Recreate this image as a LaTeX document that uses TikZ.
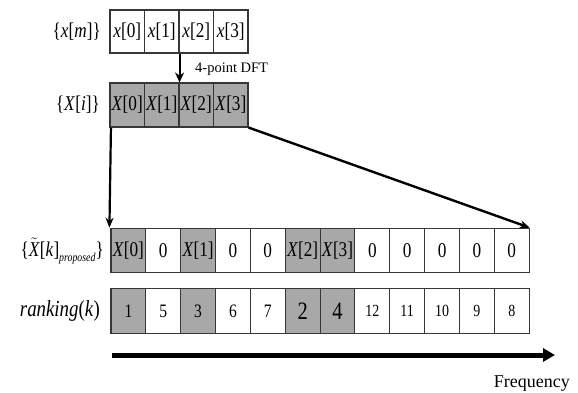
\documentclass[tikz,border=0pt]{standalone}
\usepackage{fontspec}
\setmainfont{Liberation Serif}[FakeStretch=0.82]
\newfontfamily\plainserif{Liberation Serif}
\usetikzlibrary{positioning,arrows.meta}
\definecolor{cellgray}{RGB}{168,168,168}
\definecolor{celledge}{RGB}{55,55,55}

\begin{document}
\begin{tikzpicture}[x=1pt, y=1pt, on grid, node distance=34.5pt,
    cell/.style={draw=celledge, line width=1.1pt, minimum width=34.5pt, minimum height=43pt, inner sep=0pt, font=\fontsize{21}{21}\selectfont},
    shaded/.style={cell, fill=cellgray},
    wide/.style={minimum width=34.85pt, minimum height=44.5pt},
    rowlabel/.style={anchor=east, inner sep=0pt, font=\fontsize{21}{21}\selectfont}]
    \useasboundingbox (0,0) rectangle (578,392);

    \node[cell] (x0) at (127.25,360.5) {\textit{x}[0]};
    \foreach \i [count=\j from 0] in {1,2,3}
        \node[cell, right of = x\j] (x\i) {\textit{x}[\i]};

    \node[shaded, minimum height=44pt] (X0) at (127.25,287) {\textit{X}[0]};
    \foreach \i [count=\j from 0] in {1,2,3}
        \node[shaded, minimum height=44pt, right of = X\j] (X\i) {\textit{X}[\i]};

    \node[shaded, wide] (p0) at (128.4,141.5) {\textit{X}[0]};
    \foreach \val/\sty [count=\k from 0] in {0/cell, {\textit{X}[1]}/shaded, 0/cell, 0/cell, {\textit{X}[2]}/shaded, {\textit{X}[3]}/shaded, 0/cell, 0/cell, 0/cell, 0/cell, 0/cell}{
        \pgfmathtruncatemacro\n{\k+1}
        \node[\sty, wide, right=34.85pt of p\k] (p\n) {\val};
    }

    \node[shaded, wide, font=\fontsize{19}{19}\selectfont] (r0) at (128.4,81) {1};
    \foreach \val/\sty/\fs [count=\k from 0] in {5/cell/19, 3/shaded/19, 6/cell/19, 7/cell/19, 2/shaded/25, 4/shaded/25, 12/cell/17, 11/cell/17, 10/cell/17, 9/cell/17, 8/cell/17}{
        \pgfmathtruncatemacro\n{\k+1}
        \node[\sty, wide, font=\fontsize{\fs}{\fs}\selectfont, right=34.85pt of r\k] (r\n) {\val};
    }

    \node[rowlabel] (lx) at (101,360.5) {\{\textit{x}[\textit{m}]\}};
    \node[rowlabel] (lX) at (100,287) {\{\textit{X}[\textit{i}]\}};
    \node[rowlabel] (lp) at (104,141) {\{$\tilde{\mbox{\textit{X}}}$[\textit{k}]\raisebox{-0.6ex}{\fontsize{12}{12}\selectfont\textit{proposed}}\}};
    \node[rowlabel, font=\fontsize{23}{23}\selectfont] (lr) at (100,81) {\textit{ranking}(\textit{k})};

    \draw[-{Stealth[length=10pt,width=9pt]}, line width=2pt] (x1.south east) -- (X1.north east);
    \node[anchor=west, inner sep=0pt, font=\plainserif\fontsize{14.5}{14.5}\selectfont] (dft) at (195,323) {4-point DFT};
    \draw[-{Stealth[length=10pt,width=8pt]}, line width=2.2pt] ([xshift=1.5pt]X0.south west) -- ([xshift=-1pt]p0.north west);
    \draw[-{Stealth[length=10pt,width=8pt]}, line width=2.4pt] (X3.south east) -- (p11.north east);

    \coordinate (fa) at (112,37);
    \coordinate (fb) at (555,37);
    \draw[-{Triangle[length=12pt,width=13pt]}, line width=5pt] (fa) -- (fb);
    \node[anchor=base east, inner sep=0pt, font=\plainserif\fontsize{18}{18}\selectfont] (freq) at (570,5) {Frequency};
\end{tikzpicture}
\end{document}
